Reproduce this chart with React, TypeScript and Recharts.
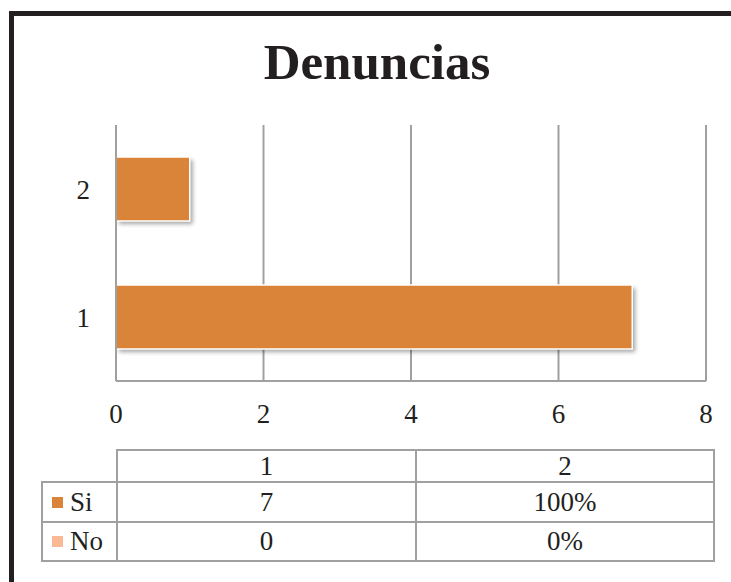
import React from "react";
import { BarChart, Bar, XAxis, YAxis, CartesianGrid } from "recharts";

const categories = ["1", "2"];
const siValues = [7, 1];
const noValues = [0, 0];
const cellFormats = ["number", "percent"];
const xTicks = [0, 2, 4, 6, 8];

const seriesNames = ["Si", "No"];
const seriesColors = ["#DA843A", "#F9B995"];

const chartData = categories.map((name, i) => ({
    name,
    Si: siValues[i],
    No: noValues[i],
}));

const FONT = "'Liberation Serif', 'DejaVu Serif', serif";
const INK = "#231f20";
const GRID = "#a0a0a0";
const TEXT_SIZE = 27;

const formatCell = (v: number, fmt: string) =>
    fmt === "percent" ? `${Math.round(v * 100)}%` : `${v}`;

const ShadowBar = (props: any) => {
    const { x, y, width, height, fill } = props;
    if (!width || width <= 0) return null;
    return (
        <g>
            <rect
                x={x}
                y={y}
                width={width}
                height={height}
                fill="#000"
                opacity={0.35}
                filter="url(#barShadow)"
            />
            <rect
                x={x}
                y={y}
                width={width}
                height={height}
                fill={fill}
                stroke="#fff"
                strokeWidth={1.5}
            />
        </g>
    );
};

const DataTable: React.FC = () => {
    const rows = [siValues, noValues];
    const cellText: React.CSSProperties = {
        position: "absolute",
        display: "flex",
        alignItems: "center",
        justifyContent: "center",
        fontFamily: FONT,
        fontSize: TEXT_SIZE,
        color: INK,
        boxSizing: "border-box",
    };
    const colX = [116, 415, 713];
    const rowY = [449, 481, 521, 560];
    const border = `2px solid ${GRID}`;
    return (
        <div style={{ position: "absolute", left: 0, top: 0 }}>
            {/* header row */}
            {categories.map((c, j) => (
                <div
                    key={"h" + j}
                    style={{
                        ...cellText,
                        left: colX[j],
                        top: rowY[0],
                        width: colX[j + 1] - colX[j] + 2,
                        height: rowY[1] - rowY[0] + 2,
                        border,
                    }}
                >
                    {c}
                </div>
            ))}
            {rows.map((vals, r) => (
                <React.Fragment key={"r" + r}>
                    <div
                        style={{
                            ...cellText,
                            justifyContent: "flex-start",
                            left: 41,
                            top: rowY[r + 1],
                            width: colX[0] - 41 + 2,
                            height: rowY[r + 2] - rowY[r + 1] + 2,
                            border,
                            paddingLeft: 9,
                        }}
                    >
                        <span
                            style={{
                                display: "inline-block",
                                width: 11,
                                height: 11,
                                background: seriesColors[r],
                                marginRight: 7,
                            }}
                        />
                        {seriesNames[r]}
                    </div>
                    {vals.map((v, j) => (
                        <div
                            key={j}
                            style={{
                                ...cellText,
                                left: colX[j],
                                top: rowY[r + 1],
                                width: colX[j + 1] - colX[j] + 2,
                                height: rowY[r + 2] - rowY[r + 1] + 2,
                                border,
                            }}
                        >
                            {formatCell(v, cellFormats[j])}
                        </div>
                    ))}
                </React.Fragment>
            ))}
        </div>
    );
};

const App: React.FC = () => {
    return (
        <div
            style={{
                position: "absolute",
                left: 0,
                top: 0,
                width: 731,
                height: 582,
                overflow: "hidden",
                background: "#fff",
            }}
        >
            <div
                style={{
                    position: "absolute",
                    left: 9,
                    top: 11,
                    width: 900,
                    height: 900,
                    border: `5px solid ${INK}`,
                }}
            />
            <div
                style={{
                    position: "absolute",
                    left: 177,
                    top: 37,
                    width: 400,
                    textAlign: "center",
                    fontFamily: FONT,
                    fontWeight: "bold",
                    fontSize: 51,
                    lineHeight: "51px",
                    color: INK,
                    whiteSpace: "nowrap",
                }}
            >
                Denuncias
            </div>
            <div style={{ position: "absolute", left: 0, top: 0 }}>
                <BarChart
                    width={731}
                    height={440}
                    data={chartData}
                    layout="vertical"
                    margin={{ top: 125, right: 25, bottom: 19, left: 56 }}
                    barCategoryGap="25%"
                >
                    <defs>
                        <filter id="barShadow" x="-20%" y="-20%" width="140%" height="160%">
                            <feOffset dx="3" dy="3" />
                            <feGaussianBlur stdDeviation="2" />
                        </filter>
                    </defs>
                    <CartesianGrid horizontal={false} stroke={GRID} strokeWidth={2} />
                    <XAxis
                        type="number"
                        domain={[0, 8]}
                        ticks={xTicks}
                        height={40}
                        tickSize={0}
                        tickMargin={23}
                        axisLine={{ stroke: GRID, strokeWidth: 2 }}
                        tick={{ fill: INK, fontSize: TEXT_SIZE, fontFamily: FONT }}
                    />
                    <YAxis
                        type="category"
                        dataKey="name"
                        reversed
                        width={60}
                        tickSize={0}
                        tickMargin={26}
                        axisLine={{ stroke: GRID, strokeWidth: 2 }}
                        tick={{ fill: INK, fontSize: TEXT_SIZE, fontFamily: FONT }}
                    />
                    <Bar
                        dataKey="Si"
                        stackId="a"
                        fill={seriesColors[0]}
                        shape={<ShadowBar />}
                        isAnimationActive={false}
                    />
                    <Bar
                        dataKey="No"
                        stackId="a"
                        fill={seriesColors[1]}
                        shape={<ShadowBar />}
                        isAnimationActive={false}
                    />
                </BarChart>
            </div>
            <DataTable />
        </div>
    );
};

export default App;
